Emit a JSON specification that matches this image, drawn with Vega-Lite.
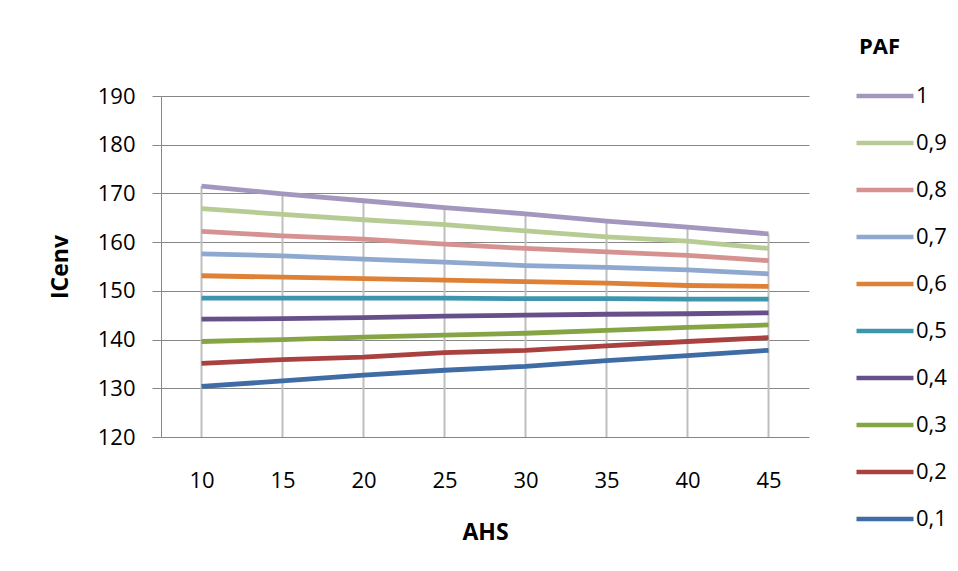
{
  "$schema": "https://vega.github.io/schema/vega-lite/v6.json",
  "width": 648,
  "height": 341,
  "autosize": {"type": "none"},
  "padding": {"left": 161, "top": 96, "right": 149, "bottom": 134},
  "background": "white",
  "config": {
    "view": {"stroke": null},
    "font": "Open Sans",
    "axis": {"labelColor": "black", "titleColor": "black", "labelFont": "Open Sans", "titleFont": "Open Sans"},
    "legend": {"labelFont": "Open Sans", "titleFont": "Open Sans"}
  },
  "data": {
    "values": [
      {"AHS": 10, "PAF": "1", "ICenv": 171.5}, {"AHS": 15, "PAF": "1", "ICenv": 169.9}, {"AHS": 20, "PAF": "1", "ICenv": 168.5}, {"AHS": 25, "PAF": "1", "ICenv": 167.1},
      {"AHS": 30, "PAF": "1", "ICenv": 165.8}, {"AHS": 35, "PAF": "1", "ICenv": 164.3}, {"AHS": 40, "PAF": "1", "ICenv": 163.1}, {"AHS": 45, "PAF": "1", "ICenv": 161.7},
      {"AHS": 10, "PAF": "0,9", "ICenv": 166.9}, {"AHS": 15, "PAF": "0,9", "ICenv": 165.7}, {"AHS": 20, "PAF": "0,9", "ICenv": 164.6}, {"AHS": 25, "PAF": "0,9", "ICenv": 163.6},
      {"AHS": 30, "PAF": "0,9", "ICenv": 162.3}, {"AHS": 35, "PAF": "0,9", "ICenv": 161.1}, {"AHS": 40, "PAF": "0,9", "ICenv": 160.2}, {"AHS": 45, "PAF": "0,9", "ICenv": 158.7},
      {"AHS": 10, "PAF": "0,8", "ICenv": 162.2}, {"AHS": 15, "PAF": "0,8", "ICenv": 161.3}, {"AHS": 20, "PAF": "0,8", "ICenv": 160.6}, {"AHS": 25, "PAF": "0,8", "ICenv": 159.6},
      {"AHS": 30, "PAF": "0,8", "ICenv": 158.7}, {"AHS": 35, "PAF": "0,8", "ICenv": 158.0}, {"AHS": 40, "PAF": "0,8", "ICenv": 157.3}, {"AHS": 45, "PAF": "0,8", "ICenv": 156.2},
      {"AHS": 10, "PAF": "0,7", "ICenv": 157.6}, {"AHS": 15, "PAF": "0,7", "ICenv": 157.2}, {"AHS": 20, "PAF": "0,7", "ICenv": 156.5}, {"AHS": 25, "PAF": "0,7", "ICenv": 155.9},
      {"AHS": 30, "PAF": "0,7", "ICenv": 155.2}, {"AHS": 35, "PAF": "0,7", "ICenv": 154.8}, {"AHS": 40, "PAF": "0,7", "ICenv": 154.3}, {"AHS": 45, "PAF": "0,7", "ICenv": 153.5},
      {"AHS": 10, "PAF": "0,6", "ICenv": 153.1}, {"AHS": 15, "PAF": "0,6", "ICenv": 152.8}, {"AHS": 20, "PAF": "0,6", "ICenv": 152.5}, {"AHS": 25, "PAF": "0,6", "ICenv": 152.2},
      {"AHS": 30, "PAF": "0,6", "ICenv": 151.9}, {"AHS": 35, "PAF": "0,6", "ICenv": 151.6}, {"AHS": 40, "PAF": "0,6", "ICenv": 151.1}, {"AHS": 45, "PAF": "0,6", "ICenv": 150.9},
      {"AHS": 10, "PAF": "0,5", "ICenv": 148.5}, {"AHS": 15, "PAF": "0,5", "ICenv": 148.5}, {"AHS": 20, "PAF": "0,5", "ICenv": 148.5}, {"AHS": 25, "PAF": "0,5", "ICenv": 148.5},
      {"AHS": 30, "PAF": "0,5", "ICenv": 148.4}, {"AHS": 35, "PAF": "0,5", "ICenv": 148.4}, {"AHS": 40, "PAF": "0,5", "ICenv": 148.3}, {"AHS": 45, "PAF": "0,5", "ICenv": 148.3},
      {"AHS": 10, "PAF": "0,4", "ICenv": 144.2}, {"AHS": 15, "PAF": "0,4", "ICenv": 144.3}, {"AHS": 20, "PAF": "0,4", "ICenv": 144.5}, {"AHS": 25, "PAF": "0,4", "ICenv": 144.8},
      {"AHS": 30, "PAF": "0,4", "ICenv": 145.0}, {"AHS": 35, "PAF": "0,4", "ICenv": 145.2}, {"AHS": 40, "PAF": "0,4", "ICenv": 145.3}, {"AHS": 45, "PAF": "0,4", "ICenv": 145.5},
      {"AHS": 10, "PAF": "0,3", "ICenv": 139.6}, {"AHS": 15, "PAF": "0,3", "ICenv": 140.0}, {"AHS": 20, "PAF": "0,3", "ICenv": 140.5}, {"AHS": 25, "PAF": "0,3", "ICenv": 140.9},
      {"AHS": 30, "PAF": "0,3", "ICenv": 141.3}, {"AHS": 35, "PAF": "0,3", "ICenv": 141.9}, {"AHS": 40, "PAF": "0,3", "ICenv": 142.5}, {"AHS": 45, "PAF": "0,3", "ICenv": 143.0},
      {"AHS": 10, "PAF": "0,2", "ICenv": 135.1}, {"AHS": 15, "PAF": "0,2", "ICenv": 135.9}, {"AHS": 20, "PAF": "0,2", "ICenv": 136.4}, {"AHS": 25, "PAF": "0,2", "ICenv": 137.3},
      {"AHS": 30, "PAF": "0,2", "ICenv": 137.8}, {"AHS": 35, "PAF": "0,2", "ICenv": 138.7}, {"AHS": 40, "PAF": "0,2", "ICenv": 139.6}, {"AHS": 45, "PAF": "0,2", "ICenv": 140.4},
      {"AHS": 10, "PAF": "0,1", "ICenv": 130.4}, {"AHS": 15, "PAF": "0,1", "ICenv": 131.5}, {"AHS": 20, "PAF": "0,1", "ICenv": 132.7}, {"AHS": 25, "PAF": "0,1", "ICenv": 133.7},
      {"AHS": 30, "PAF": "0,1", "ICenv": 134.5}, {"AHS": 35, "PAF": "0,1", "ICenv": 135.7}, {"AHS": 40, "PAF": "0,1", "ICenv": 136.7}, {"AHS": 45, "PAF": "0,1", "ICenv": 137.8}
    ]
  },
  "encoding": {
    "x": {
      "field": "AHS",
      "type": "ordinal",
      "scale": {"type": "point", "padding": 0.5},
      "axis": {
        "title": "AHS",
        "labelAngle": 0,
        "labelFontSize": 22,
        "labelBaseline": "middle",
        "labelPadding": 43,
        "ticks": false,
        "domain": false,
        "grid": false,
        "titleFontSize": 23,
        "titleFontWeight": "bold",
        "titleY": 95,
        "titleBaseline": "middle"
      }
    }
  },
  "layer": [
    {
      "mark": {"type": "rule", "color": "#BEBEBE", "strokeWidth": 2},
      "encoding": {
        "y": {"aggregate": "max", "field": "ICenv", "type": "quantitative"},
        "y2": {"datum": 120}
      }
    },
    {
      "mark": {"type": "line", "strokeWidth": 4.8},
      "encoding": {
        "y": {
          "field": "ICenv",
          "type": "quantitative",
          "scale": {"domain": [120, 190], "nice": false, "zero": false},
          "axis": {
            "title": "ICenv",
            "values": [120, 130, 140, 150, 160, 170, 180, 190],
            "labelFontSize": 22,
            "labelPadding": 17,
            "tickSize": 9,
            "tickColor": "#868686",
            "domainColor": "#868686",
            "gridColor": "#868686",
            "grid": true,
            "gridWidth": 1,
            "titleFontSize": 23,
            "titleFontWeight": "bold",
            "titleAngle": -90,
            "titleX": -101,
            "titleY": 170.5,
            "titleBaseline": "middle",
            "titleAlign": "center"
          }
        },
        "color": {
          "field": "PAF",
          "type": "nominal",
          "scale": {
            "domain": ["1", "0,9", "0,8", "0,7", "0,6", "0,5", "0,4", "0,3", "0,2", "0,1"],
            "range": ["#A497BE", "#B6CC94", "#D59291", "#8FA8CF", "#DE8136", "#3E96AE", "#67508A", "#85A545", "#A8413F", "#3F6CA5"]
          },
          "legend": {
            "title": "PAF",
            "orient": "none",
            "legendX": 693,
            "legendY": -59,
            "symbolType": "stroke",
            "symbolSize": 3249,
            "symbolStrokeWidth": 4.5,
            "labelFontSize": 22,
            "labelColor": "black",
            "labelOffset": 0,
            "titleFontSize": 22,
            "titleFontWeight": "bold",
            "titleColor": "black",
            "titleAnchor": "middle",
            "titleAlign": "right",
            "titlePadding": 6,
            "rowPadding": 5
          }
        }
      }
    }
  ]
}
